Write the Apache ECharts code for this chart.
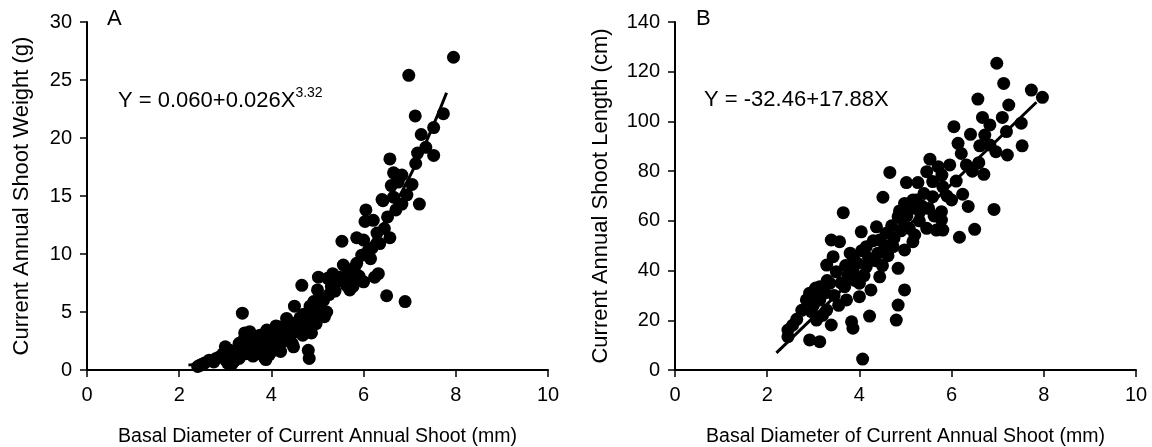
<!DOCTYPE html>
<html>
<head>
<meta charset="utf-8">
<script src="https://cdn.jsdelivr.net/npm/echarts@6/dist/echarts.min.js"></script>
<style>
  html, body { margin: 0; padding: 0; background: #fff; }
  #main { width: 1152px; height: 447px; }
</style>
</head>
<body>
<div id="main"></div>
<script>
// panel A: basal diameter (mm) vs shoot weight (g)
const aX = [2.4,2.45,2.5,2.55,2.65,2.75,2.8,2.88,2.95,3.0,3.02,3.05,3.1,3.1,3.15,3.2,3.25,3.3,3.3,3.35,3.37,3.4,3.42,3.45,3.5,3.53,3.55,3.6,3.65,3.68,3.7,3.75,3.8,3.85,3.86,3.88,3.9,3.92,3.95,4.0,4.02,4.05,4.1,4.12,4.15,4.18,4.2,4.22,4.25,4.3,4.33,4.36,4.4,4.42,4.45,4.48,4.5,4.52,4.55,4.6,4.62,4.66,4.68,4.7,4.72,4.76,4.8,4.82,4.84,4.87,4.9,4.92,4.95,4.97,5.0,5.02,5.05,5.1,5.13,5.15,5.2,5.22,5.25,5.3,5.33,5.38,5.42,5.48,5.53,5.56,5.6,5.63,5.68,5.7,5.74,5.77,5.8,5.85,5.85,5.9,5.96,6.0,6.0,6.03,6.05,6.1,6.15,6.18,6.21,6.24,6.29,6.32,6.35,6.4,6.42,6.45,6.5,6.52,6.57,6.57,6.6,6.65,6.65,6.7,6.75,6.83,6.83,6.9,6.94,6.98,7.05,7.12,7.13,7.17,7.21,7.25,7.35,7.52,7.52,7.73,7.95,3.0,3.2,3.45,3.6,3.75,3.95,4.1,4.3];
const aY = [0.3,0.4,0.5,0.6,0.85,0.7,1.0,1.15,1.4,0.9,1.4,0.6,1.7,1.1,0.55,1.3,1.5,2.3,1.0,1.8,4.9,2.6,3.2,1.4,2.1,3.3,1.6,2.7,2.0,2.3,1.4,3.0,2.5,1.9,1.0,0.9,3.45,2.8,2.2,3.0,2.6,1.7,2.3,3.3,2.7,3.7,1.6,2.9,3.2,2.5,4.45,3.5,2.9,3.9,2.3,2.0,5.5,3.3,4.1,3.7,4.5,7.3,3.0,4.8,3.8,4.6,1.7,1.0,5.5,3.2,4.3,5.9,5.0,4.0,6.9,8.0,5.5,6.2,6.0,4.6,5.0,7.9,6.5,7.2,8.3,6.8,7.6,8.0,11.1,9.05,8.0,7.3,8.5,6.9,7.6,7.2,8.8,9.2,11.4,8.1,9.9,7.6,11.2,12.8,13.8,10.3,9.6,10.5,12.9,8.0,11.8,8.3,10.9,14.7,14.6,12.2,6.4,13.2,18.2,11.4,15.9,17.0,14.9,13.8,16.2,16.8,14.3,5.9,15.1,25.4,16.0,21.9,17.8,18.7,14.3,20.3,19.2,20.9,18.5,22.1,26.96,2.0,0.8,2.6,1.2,1.8,1.3,3.8,3.6];
// fitted curve Y = 0.060+0.026X^3.32
const aFitX = [2.2,2.6,3.0,3.4,3.8,4.2,4.6,5.0,5.4,5.8,6.2,6.6,7.0,7.4,7.8];
const aFitY = [0.42,0.68,1.06,1.57,2.25,3.11,4.19,5.49,7.08,8.97,11.16,13.74,16.67,20.06,23.9];

// panel B: basal diameter (mm) vs shoot length (cm)
const bX = [2.45,2.45,2.55,2.64,2.75,2.85,2.92,2.92,2.96,3.0,3.05,3.07,3.1,3.14,3.14,3.14,3.2,3.25,3.29,3.29,3.3,3.36,3.39,3.39,3.43,3.45,3.5,3.55,3.57,3.6,3.65,3.68,3.7,3.72,3.75,3.8,3.83,3.86,3.86,3.86,3.9,3.95,4.0,4.0,4.04,4.05,4.07,4.1,4.15,4.15,4.2,4.22,4.25,4.3,4.35,4.37,4.4,4.44,4.44,4.5,4.51,4.55,4.58,4.62,4.66,4.7,4.73,4.75,4.8,4.84,4.84,4.84,4.87,4.9,4.95,4.98,4.98,4.98,5.02,5.03,5.08,5.12,5.16,5.16,5.2,5.23,5.27,5.3,5.31,5.35,5.4,5.46,5.46,5.5,5.53,5.59,5.59,5.62,5.67,5.71,5.78,5.78,5.79,5.81,5.81,5.9,5.96,6.0,6.05,6.1,6.14,6.17,6.21,6.24,6.32,6.36,6.41,6.45,6.5,6.57,6.59,6.61,6.67,6.7,6.72,6.83,6.83,6.92,6.96,6.98,7.1,7.13,7.19,7.21,7.24,7.51,7.53,7.73,7.97];
const bY = [16.1,13.4,18,20.4,24,28.2,30.9,12.1,23.5,26,33,20.1,29,33.5,28.2,11.4,22,31,42.2,24.1,36,34.9,52.3,18.1,45.6,30,39.5,26,51.6,35,63.3,33.5,42,28.2,38,47,19.4,45.6,40.2,16.8,36,43,34.9,29.5,55.6,48,4.4,38,49.6,41.6,45,21.7,32.2,52,44,57.6,47,52.3,37.5,42,69.5,50,55,46,79.5,58,49.6,53,20.1,61.7,40.9,26.1,64,56,60,67,48.3,32.2,75.4,62,57,65,68.4,51.6,54.3,68.4,75.4,60,63.7,66,71,79.8,57,65,84.8,75.8,69.7,62,56.3,81.8,63.7,60.3,78.4,73.7,56.3,70,82.5,68.4,97.9,76,91.2,53.4,87.1,70.7,82.5,65.8,94.8,80,56.6,109,83.4,90.2,101.6,78.7,94.5,98.6,90.5,64.6,87.8,123.4,101.6,115.3,95.9,86.5,106.6,99.3,90.2,112.6,109.7];
// fitted line Y = -32.46+17.88X, ends of the drawn line
const bFitX = [2.2, 7.84];
const bFitY = [6.9, 107.7];

const xTitle = 'Basal Diameter of Current Annual Shoot (mm)';
const font = 'Liberation Sans, Arial, sans-serif';

const zip = (xs, ys) => xs.map((x, i) => [x, ys[i]]);

const xAxisBase = (gridIndex) => ({
    gridIndex: gridIndex,
    type: 'value',
    min: 0, max: 10, interval: 2,
    name: xTitle,
    nameLocation: 'middle',
    nameGap: 57,
    nameMoveOverlap: false,
    nameTextStyle: { color: '#000', fontSize: 19.5, fontFamily: font },
    axisLine: { lineStyle: { color: '#000', width: 2 } },
    axisTick: { show: true, inside: false, length: 7, lineStyle: { color: '#000', width: 1.5 } },
    axisLabel: { color: '#000', fontSize: 20, fontFamily: font, margin: 15 },
    splitLine: { show: false }
});

const yAxisBase = (gridIndex, max, interval, name, gap) => ({
    gridIndex: gridIndex,
    type: 'value',
    min: 0, max: max, interval: interval,
    name: name,
    nameLocation: 'middle',
    nameGap: gap,
    nameMoveOverlap: false,
    nameTextStyle: { color: '#000', fontSize: 22, fontFamily: font },
    axisLine: { show: true, lineStyle: { color: '#000', width: 2 } },
    axisTick: { show: true, inside: false, length: 7, lineStyle: { color: '#000', width: 1.5 } },
    axisLabel: { color: '#000', fontSize: 20, fontFamily: font, margin: 15 },
    splitLine: { show: false }
});

const chart = echarts.init(document.getElementById('main'));

const option = {
    animation: false,
    backgroundColor: '#fff',
    grid: [
        { left: 87, right: 604, top: 22, bottom: 77, outerBoundsMode: 'none', containLabel: false },
        { left: 675, right: 16, top: 22, bottom: 77, outerBoundsMode: 'none', containLabel: false }
    ],
    xAxis: [xAxisBase(0), xAxisBase(1)],
    yAxis: [
        yAxisBase(0, 30, 5, 'Current Annual Shoot Weight (g)', 54),
        yAxisBase(1, 140, 20, 'Current Annual Shoot Length (cm)', 63)
    ],
    graphic: [
        { type: 'text', left: 107, top: 8, style: { text: 'A', fontSize: 22, fontFamily: font, fill: '#000' } },
        { type: 'text', left: 696, top: 8, style: { text: 'B', fontSize: 22, fontFamily: font, fill: '#000' } },
        {
            type: 'text', left: 118, top: 86,
            style: {
                text: '{m|Y = 0.060+0.026X}{s|3.32}',
                rich: {
                    m: { fontSize: 22, fontFamily: font, fill: '#000', lineHeight: 26, verticalAlign: 'bottom' },
                    s: { fontSize: 14, fontFamily: font, fill: '#000', lineHeight: 26, verticalAlign: 'top' }
                }
            }
        },
        {
            type: 'text', left: 704, top: 89,
            style: { text: 'Y = -32.46+17.88X', fontSize: 22, fontFamily: font, fill: '#000' }
        }
    ],
    series: [
        {
            type: 'scatter', xAxisIndex: 0, yAxisIndex: 0,
            data: zip(aX, aY), symbolSize: 13,
            itemStyle: { color: '#000', opacity: 1 }
        },
        {
            type: 'line', xAxisIndex: 0, yAxisIndex: 0,
            data: zip(aFitX, aFitY), smooth: true, symbol: 'none',
            lineStyle: { color: '#000', width: 3 }
        },
        {
            type: 'scatter', xAxisIndex: 1, yAxisIndex: 1,
            data: zip(bX, bY), symbolSize: 13,
            itemStyle: { color: '#000', opacity: 1 }
        },
        {
            type: 'line', xAxisIndex: 1, yAxisIndex: 1,
            data: zip(bFitX, bFitY), symbol: 'none',
            lineStyle: { color: '#000', width: 3 }
        }
    ]
};

chart.setOption(option);
</script>
</body>
</html>
